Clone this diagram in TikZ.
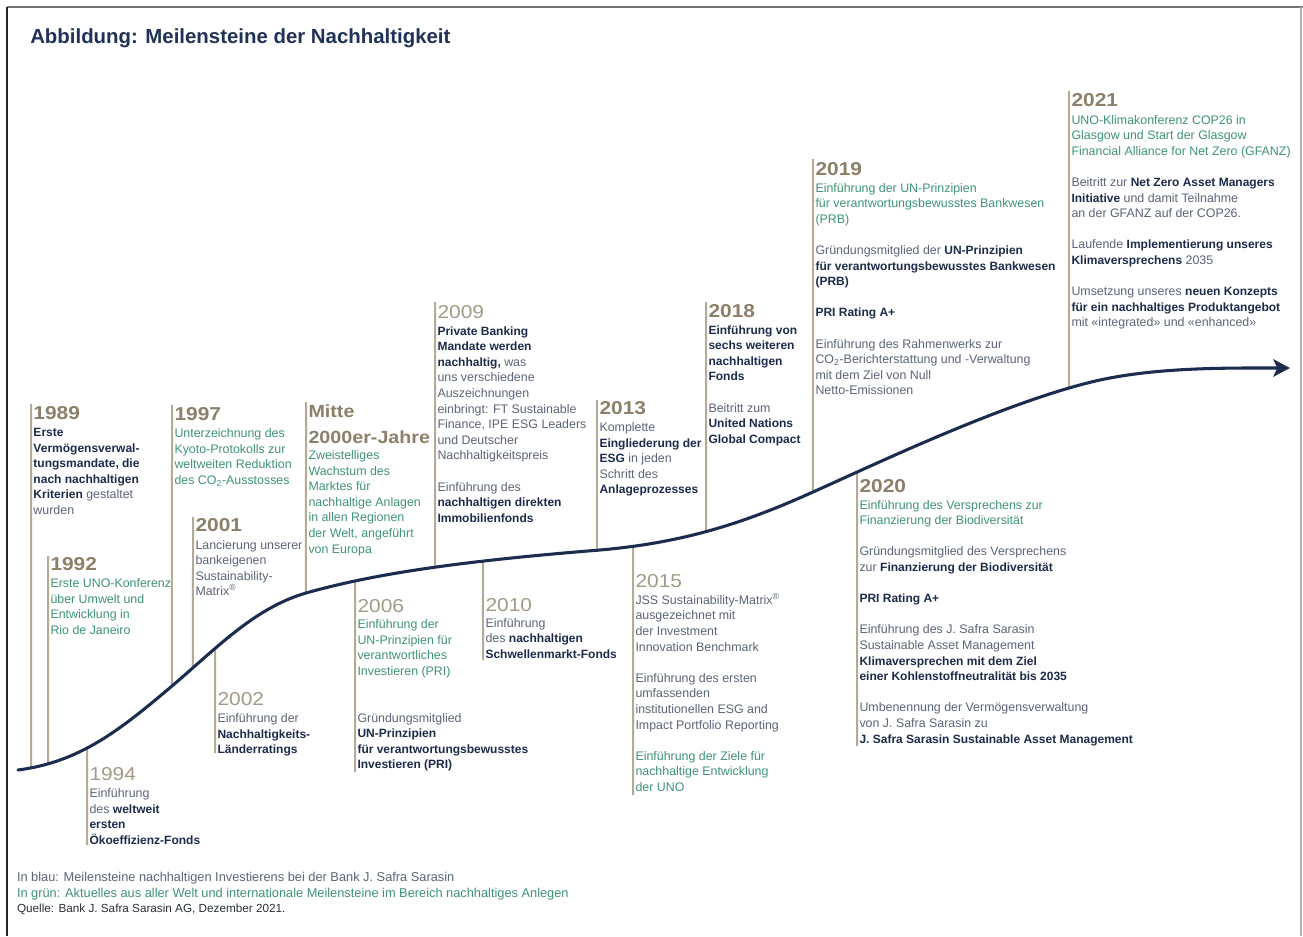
\documentclass[tikz,border=0pt]{standalone}
\usepackage{fontspec}
\setmainfont{Liberation Sans}
\newfontfamily\yearfont[FakeStretch=1.12]{Liberation Sans}
\usetikzlibrary{intersections,arrows.meta}
\definecolor{navy}{HTML}{1D2B4B}
\definecolor{bluec}{HTML}{5B6478}
\definecolor{greenc}{HTML}{3F9472}
\definecolor{yearc}{HTML}{8D806A}
\definecolor{yearl}{HTML}{A39A88}
\definecolor{linec}{HTML}{B5AA96}
\definecolor{curvec}{HTML}{1B2C4F}
\definecolor{titlec}{HTML}{1F3358}
\definecolor{darkc}{HTML}{2A2E3A}
\newcommand{\hl}[1]{{\fontsize{9}{11.7}\selectfont\bfseries\color{navy}#1}}
\newcommand{\gn}[1]{{\color{greenc}#1}}
\newcommand{\curvept}[2]{%
  \path[name path=vp#1] (#2,0) -- (#2,936);
  \path[name intersections={of=curve and vp#1, by=c#1}];}
\tikzset{
  mline/.style={draw=linec, line width=1.5pt},
  year/.style={anchor=base west, inner sep=0pt, outer sep=0pt,
    font=\yearfont\bfseries\fontsize{14}{14}\selectfont, text=yearc},
  yearr/.style={year, font=\yearfont\fontsize{14}{14}\selectfont, text=yearl},
  yearm/.style={year, font=\yearfont\bfseries\fontsize{13.2}{14}\selectfont},
  txt/.style={anchor=north west, yshift=8.19pt, inner sep=0pt, outer sep=0pt,
    align=left, font=\fontsize{9.3}{11.7}\selectfont, text=bluec},
  foot/.style={anchor=base west, inner sep=0pt, outer sep=0pt,
    font=\fontsize{9.6}{11.7}\selectfont},
  curvestyle/.style={draw=curvec, line width=2.3pt, line cap=round,
    -{Stealth[length=12.5pt,width=13pt,inset=3pt]}}
}
\begin{document}
\begin{tikzpicture}[x=0.75pt,y=-0.75pt]
\fill[white] (0,0) rectangle (1303,936);
\useasboundingbox (0,0) rectangle (1303,936);
% frame
\draw[line width=1.6pt, black!55] (7,7) -- (1303,7);
\draw[line width=1.6pt, black!85] (7,7) -- (7,936);
\draw[line width=1pt, black!30] (1301,7) -- (1301,936);
% title
\node[anchor=base west, inner sep=0pt, font=\bfseries\fontsize{15.3}{16}\selectfont, text=titlec] (title) at (30,43.5) {Abbildung: Meilensteine der Nachhaltigkeit};
% curve path (invisible, for intersections)
\path[name path=curve] (18,770) .. controls (80,762) and (120,730) .. (172,686)
  .. controls (220,645) and (255,608) .. (306,593)
  .. controls (370,575) and (450,562) .. (600,550)
  .. controls (680,543) and (740,525) .. (813,492)
  .. controls (880,462) and (1010,400) .. (1100,380)
  .. controls (1160,367) and (1230,368) .. (1290,368);
% 1989
\coordinate (t1989) at (31,404);
\curvept{1989}{31}
\draw[mline] (t1989) -- (c1989);
\node[year] (y1989) at (33.5,419) {1989};
\node[txt] (x1989) at (33.5,436.5) {\strut\hl{Erste}\\\hl{Vermögensverwal-}\\\hl{tungsmandate, die}\\\hl{nach nachhaltigen}\\\hl{Kriterien} gestaltet\\wurden};
% 1992
\coordinate (t1992) at (48,556);
\curvept{1992}{48}
\draw[mline] (t1992) -- (c1992);
\node[year] (y1992) at (50.5,570) {1992};
\node[txt,text=greenc] (x1992) at (50.5,587.5) {\strut Erste UNO-Konferenz\\über Umwelt und\\Entwicklung in\\Rio de Janeiro};
% 1994
\coordinate (b1994) at (87,845);
\curvept{1994}{87}
\draw[mline] (c1994) -- (b1994);
\node[yearr] (y1994) at (89.5,780) {1994};
\node[txt] (x1994) at (89.5,797.5) {\strut Einführung\\des \hl{weltweit}\\\hl{ersten}\\\hl{Ökoeffizienz-Fonds}};
% 1997
\coordinate (t1997) at (172,405);
\curvept{1997}{172}
\draw[mline] (t1997) -- (c1997);
\node[year] (y1997) at (174.5,420) {1997};
\node[txt,text=greenc] (x1997) at (174.5,437.5) {\strut Unterzeichnung des\\Kyoto-Protokolls zur\\weltweiten Reduktion\\des CO\textsubscript{2}-Ausstosses};
% 2001
\coordinate (t2001) at (193,517);
\curvept{2001}{193}
\draw[mline] (t2001) -- (c2001);
\node[year] (y2001) at (195.5,531.5) {2001};
\node[txt] (x2001) at (195.5,549) {\strut Lancierung unserer\\bankeigenen\\Sustainability-\\Matrix\textsuperscript{®}};
% 2002
\coordinate (b2002) at (215,753);
\curvept{2002}{215}
\draw[mline] (c2002) -- (b2002);
\node[yearr] (y2002) at (217.5,705) {2002};
\node[txt] (x2002) at (217.5,722.5) {\strut Einführung der\\\hl{Nachhaltigkeits-}\\\hl{Länderratings}};
% Mitte 2000er-Jahre
\coordinate (tmitte) at (306,402);
\curvept{mitte}{306}
\draw[mline] (tmitte) -- (cmitte);
\node[yearm] (ymitte) at (308.5,417) {Mitte};
\node[yearm] (ymitteb) at (308.5,443) {2000er-Jahre};
\node[txt,text=greenc] (xmitte) at (308.5,459.5) {\strut Zweistelliges\\Wachstum des\\Marktes für\\nachhaltige Anlagen\\in allen Regionen\\der Welt, angeführt\\von Europa};
% 2006
\coordinate (b2006) at (355,772);
\curvept{2006}{355}
\draw[mline] (c2006) -- (b2006);
\node[yearr] (y2006) at (357.5,612.5) {2006};
\node[txt] (x2006) at (357.5,628.5) {\strut\gn{Einführung der}\\\gn{UN-Prinzipien für}\\\gn{verantwortliches}\\\gn{Investieren (PRI)}\\[23.4pt]Gründungsmitglied\\\hl{UN-Prinzipien}\\\hl{für verantwortungsbewusstes}\\\hl{Investieren (PRI)}};
% 2009
\coordinate (t2009) at (435,302);
\curvept{2009}{435}
\draw[mline] (t2009) -- (c2009);
\node[yearr] (y2009) at (437.5,318) {2009};
\node[txt] (x2009) at (437.5,335) {\strut\hl{Private Banking}\\\hl{Mandate werden}\\\hl{nachhaltig,} was\\uns verschiedene\\Auszeichnungen\\einbringt: FT Sustainable\\Finance, IPE ESG Leaders\\und Deutscher\\Nachhaltigkeitspreis\\[11.7pt]Einführung des\\\hl{nachhaltigen direkten}\\\hl{Immobilienfonds}};
% 2010
\coordinate (b2010) at (483,660);
\curvept{2010}{483}
\draw[mline] (c2010) -- (b2010);
\node[yearr] (y2010) at (485.5,611.5) {2010};
\node[txt] (x2010) at (485.5,627) {\strut Einführung\\des \hl{nachhaltigen}\\\hl{Schwellenmarkt-Fonds}};
% 2013
\coordinate (t2013) at (597,400);
\curvept{2013}{597}
\draw[mline] (t2013) -- (c2013);
\node[year] (y2013) at (599.5,414.5) {2013};
\node[txt] (x2013) at (599.5,431.5) {\strut Komplette\\\hl{Eingliederung der}\\\hl{ESG} in jeden\\Schritt des\\\hl{Anlageprozesses}};
% 2015
\coordinate (b2015) at (633,795);
\curvept{2015}{633}
\draw[mline] (c2015) -- (b2015);
\node[yearr] (y2015) at (635.5,587.5) {2015};
\node[txt] (x2015) at (635.5,604) {\strut JSS Sustainability-Matrix\textsuperscript{®}\\ausgezeichnet mit\\der Investment\\Innovation Benchmark\\[11.7pt]Einführung des ersten\\umfassenden\\institutionellen ESG and\\Impact Portfolio Reporting\\[11.7pt]\gn{Einführung der Ziele für}\\\gn{nachhaltige Entwicklung}\\\gn{der UNO}};
% 2018
\coordinate (t2018) at (706,302);
\curvept{2018}{706}
\draw[mline] (t2018) -- (c2018);
\node[year] (y2018) at (708.5,317.5) {2018};
\node[txt] (x2018) at (708.5,334) {\strut\hl{Einführung von}\\\hl{sechs weiteren}\\\hl{nachhaltigen}\\\hl{Fonds}\\[11.7pt]Beitritt zum\\\hl{United Nations}\\\hl{Global Compact}};
% 2019
\coordinate (t2019) at (813,159);
\curvept{2019}{813}
\draw[mline] (t2019) -- (c2019);
\node[year] (y2019) at (815.5,175) {2019};
\node[txt] (x2019) at (815.5,192) {\strut\gn{Einführung der UN-Prinzipien}\\\gn{für verantwortungsbewusstes Bankwesen}\\\gn{(PRB)}\\[11.7pt]Gründungsmitglied der \hl{UN-Prinzipien}\\\hl{für verantwortungsbewusstes Bankwesen}\\\hl{(PRB)}\\[11.7pt]\hl{PRI Rating A+}\\[11.7pt]Einführung des Rahmenwerks zur\\CO\textsubscript{2}-Berichterstattung und -Verwaltung\\mit dem Ziel von Null\\Netto-Emissionen};
% 2020
\coordinate (b2020) at (857,746);
\curvept{2020}{857}
\draw[mline] (c2020) -- (b2020);
\node[year] (y2020) at (859.5,492.5) {2020};
\node[txt] (x2020) at (859.5,509) {\strut\gn{Einführung des Versprechens zur}\\\gn{Finanzierung der Biodiversität}\\[11.7pt]Gründungsmitglied des Versprechens\\zur \hl{Finanzierung der Biodiversität}\\[11.7pt]\hl{PRI Rating A+}\\[11.7pt]Einführung des J. Safra Sarasin\\Sustainable Asset Management\\\hl{Klimaversprechen mit dem Ziel}\\\hl{einer Kohlenstoffneutralität bis 2035}\\[11.7pt]Umbenennung der Vermögensverwaltung\\von J. Safra Sarasin zu\\\hl{J. Safra Sarasin Sustainable Asset Management}};
% 2021
\coordinate (t2021) at (1069,91);
\curvept{2021}{1069}
\draw[mline] (t2021) -- (c2021);
\node[year] (y2021) at (1071.5,106.5) {2021};
\node[txt] (x2021) at (1071.5,124) {\strut\gn{UNO-Klimakonferenz COP26 in}\\\gn{Glasgow und Start der Glasgow}\\\gn{Financial Alliance for Net Zero (GFANZ)}\\[11.7pt]Beitritt zur \hl{Net Zero Asset Managers}\\\hl{Initiative} und damit Teilnahme\\an der GFANZ auf der COP26.\\[11.7pt]Laufende \hl{Implementierung unseres}\\\hl{Klimaversprechens} 2035\\[11.7pt]Umsetzung unseres \hl{neuen Konzepts}\\\hl{für ein nachhaltiges Produktangebot}\\mit «integrated» und «enhanced»};
% visible curve
\draw[curvestyle] (18,770) .. controls (80,762) and (120,730) .. (172,686)
  .. controls (220,645) and (255,608) .. (306,593)
  .. controls (370,575) and (450,562) .. (600,550)
  .. controls (680,543) and (740,525) .. (813,492)
  .. controls (880,462) and (1010,400) .. (1100,380)
  .. controls (1160,367) and (1230,368) .. (1290,368);
% footer
\node[foot, text=bluec] (f1) at (17,881) {In blau: Meilensteine nachhaltigen Investierens bei der Bank J. Safra Sarasin};
\node[foot, text=greenc] (f2) at (17,897) {In grün: Aktuelles aus aller Welt und internationale Meilensteine im Bereich nachhaltiges Anlegen};
\node[foot, text=darkc, font=\fontsize{8.8}{11.7}\selectfont] (f3) at (17,912) {Quelle: Bank J. Safra Sarasin AG, Dezember 2021.};
\end{tikzpicture}
\end{document}
